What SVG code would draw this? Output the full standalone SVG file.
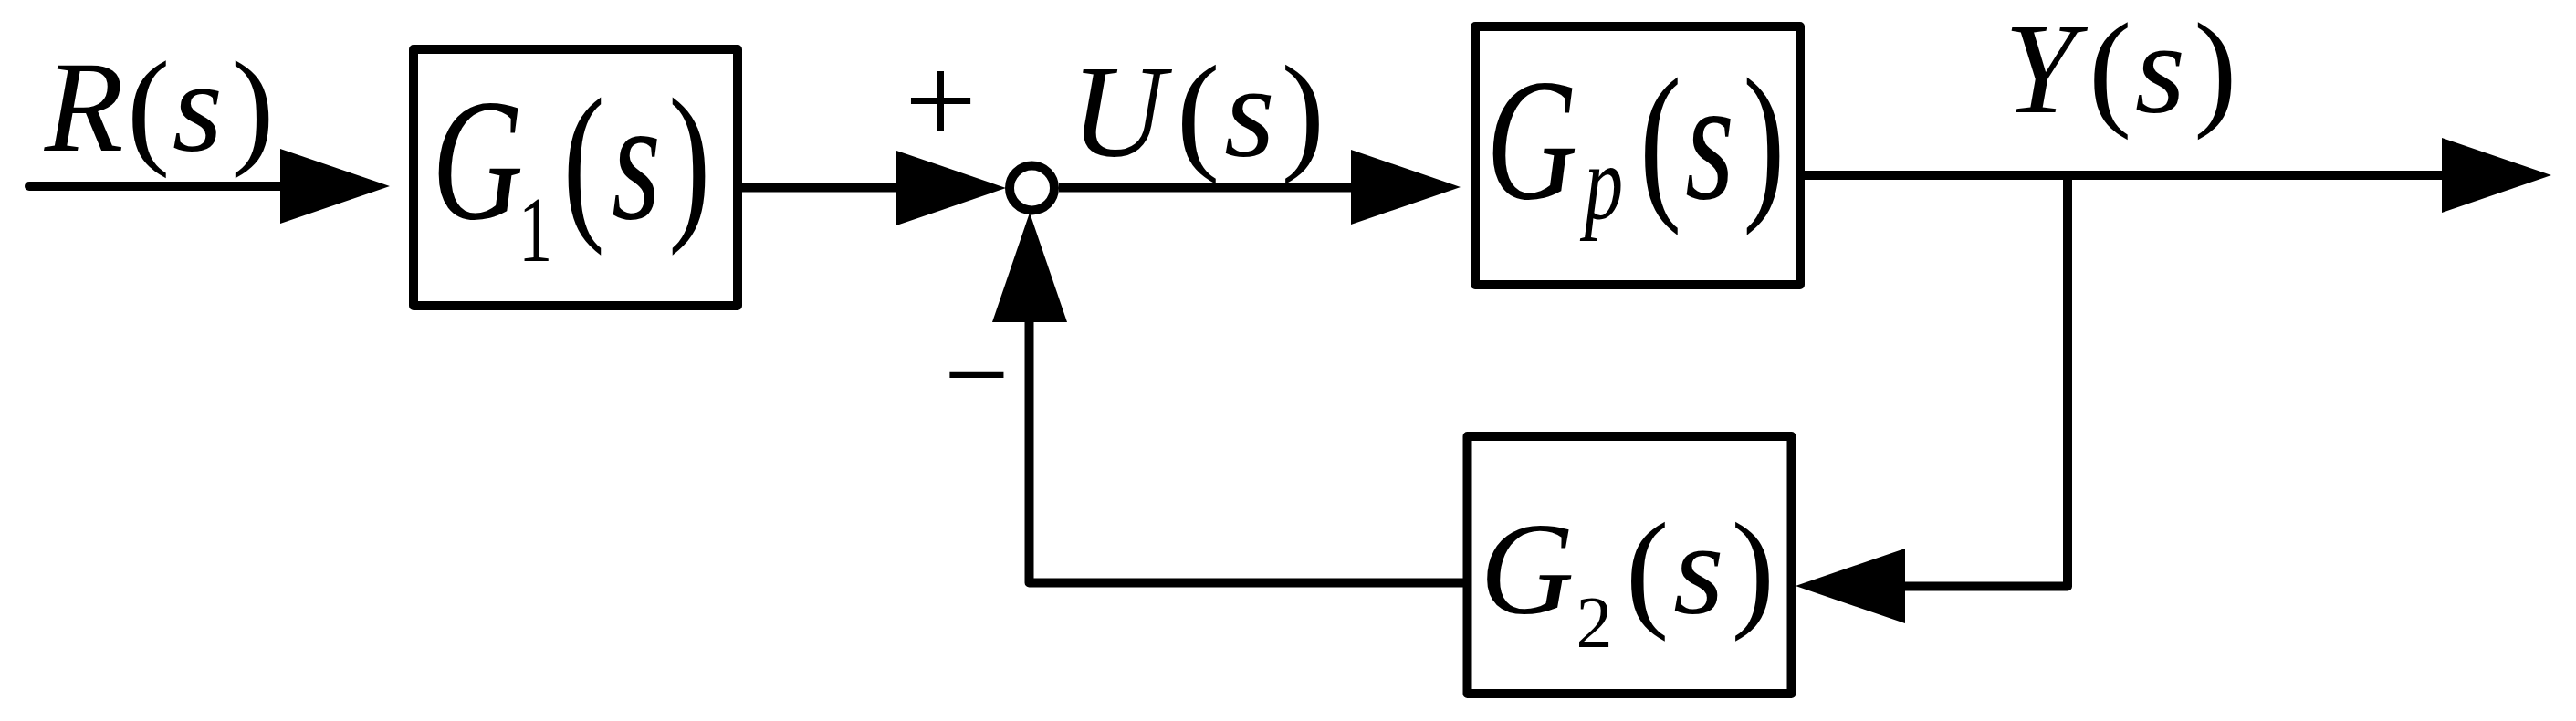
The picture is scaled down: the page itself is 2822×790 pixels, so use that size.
<svg xmlns="http://www.w3.org/2000/svg" xmlns:xlink="http://www.w3.org/1999/xlink" width="2822" height="790" viewBox="0 0 2822 790">
<style>
.box{fill:#fff;stroke:#000;stroke-width:10;stroke-linejoin:round}
.wire{fill:none;stroke:#000;stroke-width:10;stroke-linejoin:round}
text{font-family:'Liberation Serif','Times New Roman',serif;fill:#000;text-anchor:middle}
.it{font-style:italic}
.up{font-style:normal}
.ah{fill:#000}
</style>
<defs>
<path id="ah" class="ah" d="M0 0 L-120 -41 L-120 41 Z"/>
</defs>
<rect width="2822" height="790" fill="#fff"/>
<g id="connectors">
<path class="wire" d="M32 204 H310" stroke-linecap="round"/>
<path class="wire" d="M808 205.5 H990"/>
<path class="wire" d="M1160 205.5 H1485"/>
<path class="wire" d="M1977 192 H2680"/>
<path class="wire" d="M2265 192 V642.5 H2080"/>
<path class="wire" d="M1607 638.5 H1127.5 V345"/>
<use xlink:href="#ah" transform="translate(427,204)"/>
<use xlink:href="#ah" transform="translate(1102,206)"/>
<use xlink:href="#ah" transform="translate(1600,205)"/>
<use xlink:href="#ah" transform="translate(2795,192)"/>
<use xlink:href="#ah" transform="translate(1967,642) rotate(180)"/>
<use xlink:href="#ah" transform="translate(1128,233) rotate(-90)"/>
</g>
<g id="input-label">
<text font-size="142" y="165"><tspan class="it" x="92">R</tspan><tspan class="up" x="162.6">(</tspan><tspan class="it" x="216.4">s</tspan><tspan class="up" x="276.8">)</tspan></text>
</g>
<g id="G1">
<rect class="box" x="453" y="54" width="355" height="281"/>
<text font-size="190" transform="translate(527.5,239) scale(0.73,1)"><tspan class="it" x="-6" y="0">G</tspan><tspan class="up" x="81" y="47" font-size="102">1</tspan><tspan class="up" x="153.6" y="0">(</tspan><tspan class="it" x="232.2" y="0">s</tspan><tspan class="up" x="312" y="0">)</tspan></text>
</g>
<g id="sum">
<circle cx="1130.5" cy="206" r="24.5" fill="#fff" stroke="#000" stroke-width="10"/>
<text class="up" font-size="140" x="1030.5" y="157">+</text>
<text class="up" font-size="127" x="1070" y="453">−</text>
</g>
<g id="u-label">
<text font-size="143" y="171"><tspan class="it" x="1224.6">U</tspan><tspan class="up" x="1312.6">(</tspan><tspan class="it" x="1368.9">s</tspan><tspan class="up" x="1427.3">)</tspan></text>
</g>
<g id="Gp">
<rect class="box" x="1616" y="29" width="356" height="283"/>
<text font-size="190" transform="translate(1682.5,217) scale(0.73,1)"><tspan class="it" x="-6" y="0">G</tspan><tspan class="it" x="102" y="22" font-size="116">p</tspan><tspan class="up" x="187.1" y="0">(</tspan><tspan class="it" x="260.9" y="0">s</tspan><tspan class="up" x="342.1" y="0">)</tspan></text>
</g>
<g id="y-label">
<text font-size="142" y="123"><tspan class="it" x="2235">Y</tspan><tspan class="up" x="2311.6">(</tspan><tspan class="it" x="2366.4">s</tspan><tspan class="up" x="2426.8">)</tspan></text>
</g>
<g id="G2">
<rect class="box" x="1607.5" y="478" width="355" height="282"/>
<text font-size="143" y="672"><tspan class="it" x="1672.8">G</tspan><tspan class="up" x="1746.5" y="709" font-size="80">2</tspan><tspan class="up" x="1804.6" y="672">(</tspan><tspan class="it" x="1860.9" y="672">s</tspan><tspan class="up" x="1920.3" y="672">)</tspan></text>
</g>
</svg>
